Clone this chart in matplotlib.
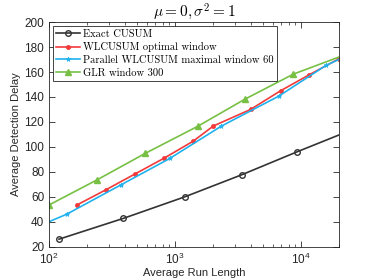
import matplotlib
matplotlib.use("Agg")
import matplotlib.pyplot as plt
from matplotlib.ticker import LogLocator, MultipleLocator

plt.rcParams['mathtext.fontset'] = 'cm'
plt.rcParams['font.family'] = ['Liberation Sans', 'DejaVu Sans']

cusum_x = [120, 390, 1200, 3400, 9300, 20000]
cusum_y = [26, 42.7, 60, 77.7, 96, 109.5]

wl_x = [168, 283, 484, 822, 1397, 2015, 3980, 6900, 11640, 20000]
wl_y = [53.6, 65.6, 78.4, 91, 104.6, 116.7, 130, 145, 157.8, 170.6]

par_x = [100, 138, 370, 912, 2340, 6680, 15800, 20000]
par_y = [40, 46, 69.4, 90.8, 116.7, 140.7, 165.3, 170]

glr_x = [100, 239, 581, 1530, 3600, 8700, 20000]
glr_y = [53.4, 73.4, 94.8, 116.7, 138.3, 158.3, 172]

labels = ["Exact CUSUM", "WLCUSUM optimal window",
          "Parallel WLCUSUM maximal window 60", "GLR window 300"]

fig = plt.figure(figsize=(3.74, 2.8), dpi=100)
ax = fig.add_axes([0.131, 0.119, 0.775, 0.802])

ax.plot(cusum_x, cusum_y, color='#333333', lw=1.2, marker='o', ms=4,
        mfc='none', mew=1.0, markevery=list(range(len(cusum_x) - 1)), label=labels[0])
ax.plot(wl_x, wl_y, color='#f23a3a', lw=1.2, marker='o', ms=3, mew=0.5,
        label=labels[1])
ax.plot(par_x, par_y, color='#1fb2ee', lw=1.2, marker='*', ms=3.5, mew=0.5,
        markevery=list(range(1, len(par_x) - 1)), label=labels[2])
ax.plot(glr_x, glr_y, color='#77c044', lw=1.2, marker='^', ms=5,
        markevery=list(range(len(glr_x) - 1)), label=labels[3])

ax.set_xscale('log')
ax.set_xlim(100, 20000)
ax.set_ylim(20, 200)
ax.yaxis.set_major_locator(MultipleLocator(20))
ax.xaxis.set_major_locator(LogLocator(base=10))
ax.xaxis.set_minor_locator(LogLocator(base=10, subs=range(2, 10)))
ax.tick_params(which='both', direction='in', top=True, right=True,
               labelsize=8.5, colors='#262626', labelcolor='#262626')
ax.tick_params(which='major', length=4, width=0.6)
ax.tick_params(which='minor', length=2.5, width=0.5)
for s in ax.spines.values():
    s.set_color('#262626')
    s.set_linewidth(0.6)

ax.set_title(r'$\mu = 0, \sigma^2 = 1$', fontsize=11, pad=3)
ax.set_xlabel('Average Run Length', fontsize=8, color='#262626', labelpad=1)
ax.set_ylabel('Average Detection Delay', fontsize=8, color='#262626', labelpad=2)

leg = ax.legend(loc='upper left', prop={'family': 'cmr10', 'size': 7.6},
                fancybox=False, framealpha=1, edgecolor='#262626',
                handlelength=2.2, handletextpad=0.3, borderpad=0.3,
                labelspacing=0.3, borderaxespad=0.4)
leg.get_frame().set_linewidth(0.6)

fig.savefig('out.png', dpi=100)
